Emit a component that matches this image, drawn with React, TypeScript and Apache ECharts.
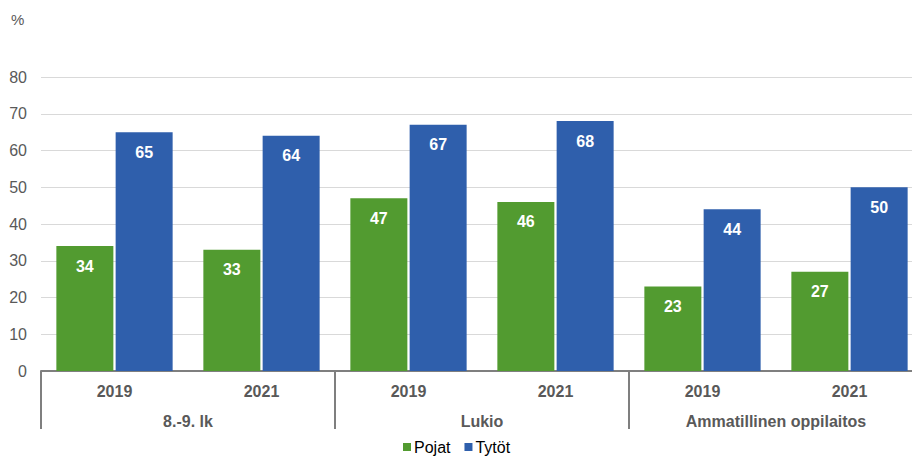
import React, { useEffect, useRef } from "react";
import * as echarts from "echarts";

const years = ["2019", "2021", "2019", "2021", "2019", "2021"];
const groups = ["8.-9. lk", "Lukio", "Ammatillinen oppilaitos"];
const pojat = [34, 33, 47, 46, 23, 27];
const tytot = [65, 64, 67, 68, 44, 50];
const yTicks = { min: 0, max: 80, interval: 10 };

const FONT = "'Liberation Sans', Arial, sans-serif";

export default function App() {
  const ref = useRef<HTMLDivElement>(null);
  useEffect(() => {
    if (!ref.current) return;
    const chart = echarts.init(ref.current, null, { renderer: "svg" });
    const label = {
      show: true,
      position: "insideTop",
      distance: 12,
      color: "#ffffff",
      fontWeight: "bold",
      fontSize: 16,
      fontFamily: FONT,
    };
    chart.setOption({
      animation: false,
      textStyle: { fontFamily: FONT },
      graphic: [
        {
          type: "text",
          left: 11,
          top: 12,
          style: { text: "%", fontSize: 15, fill: "#595959", fontFamily: FONT },
        },
      ],
      legend: {
        top: 434,
        left: 398,
        icon: "rect",
        itemWidth: 8,
        itemHeight: 8,
        itemGap: 14,
        textStyle: { fontSize: 16, color: "#000000", fontFamily: FONT, padding: [0, 0, 0, -2] },
        data: ["Pojat", "Tytöt"],
      },
      grid: { left: 41, right: 0, top: 77, bottom: 85 },
      xAxis: [
        {
          type: "category",
          data: years,
          position: "bottom",
          axisLine: { show: true, lineStyle: { color: "#7f7f7f", width: 2 } },
          axisTick: { show: false },
          axisLabel: {
            interval: 0,
            margin: 12,
            fontSize: 16,
            fontWeight: "bold",
            color: "#595959",
            fontFamily: FONT,
          },
        },
        {
          type: "category",
          data: groups,
          position: "bottom",
          offset: 0,
          axisLine: { show: false },
          axisTick: {
            show: true,
            interval: 0,
            length: 58,
            lineStyle: { color: "#7f7f7f", width: 2 },
          },
          axisLabel: {
            interval: 0,
            margin: 42,
            fontSize: 16,
            fontWeight: "bold",
            color: "#595959",
            fontFamily: FONT,
          },
        },
      ],
      yAxis: {
        type: "value",
        min: yTicks.min,
        max: yTicks.max,
        interval: yTicks.interval,
        axisLine: { show: false },
        axisTick: { show: false },
        splitLine: { lineStyle: { color: "#d9d9d9", width: 1 } },
        axisLabel: { fontSize: 16, color: "#595959", margin: 14, fontFamily: FONT },
      },
      series: [
        {
          name: "Pojat",
          type: "bar",
          data: pojat,
          barWidth: 57,
          barGap: "4%",
          itemStyle: { color: "#529b30" },
          label,
        },
        {
          name: "Tytöt",
          type: "bar",
          data: tytot,
          barWidth: 57,
          itemStyle: { color: "#2f5fac" },
          label,
        },
      ],
    });
    return () => chart.dispose();
  }, []);
  return (
    <div
      style={{
        position: "absolute",
        left: 0,
        top: 0,
        width: 912,
        height: 456,
        overflow: "hidden",
        background: "#ffffff",
      }}
    >
      <div ref={ref} style={{ width: 923, height: 456 }} />
    </div>
  );
}
